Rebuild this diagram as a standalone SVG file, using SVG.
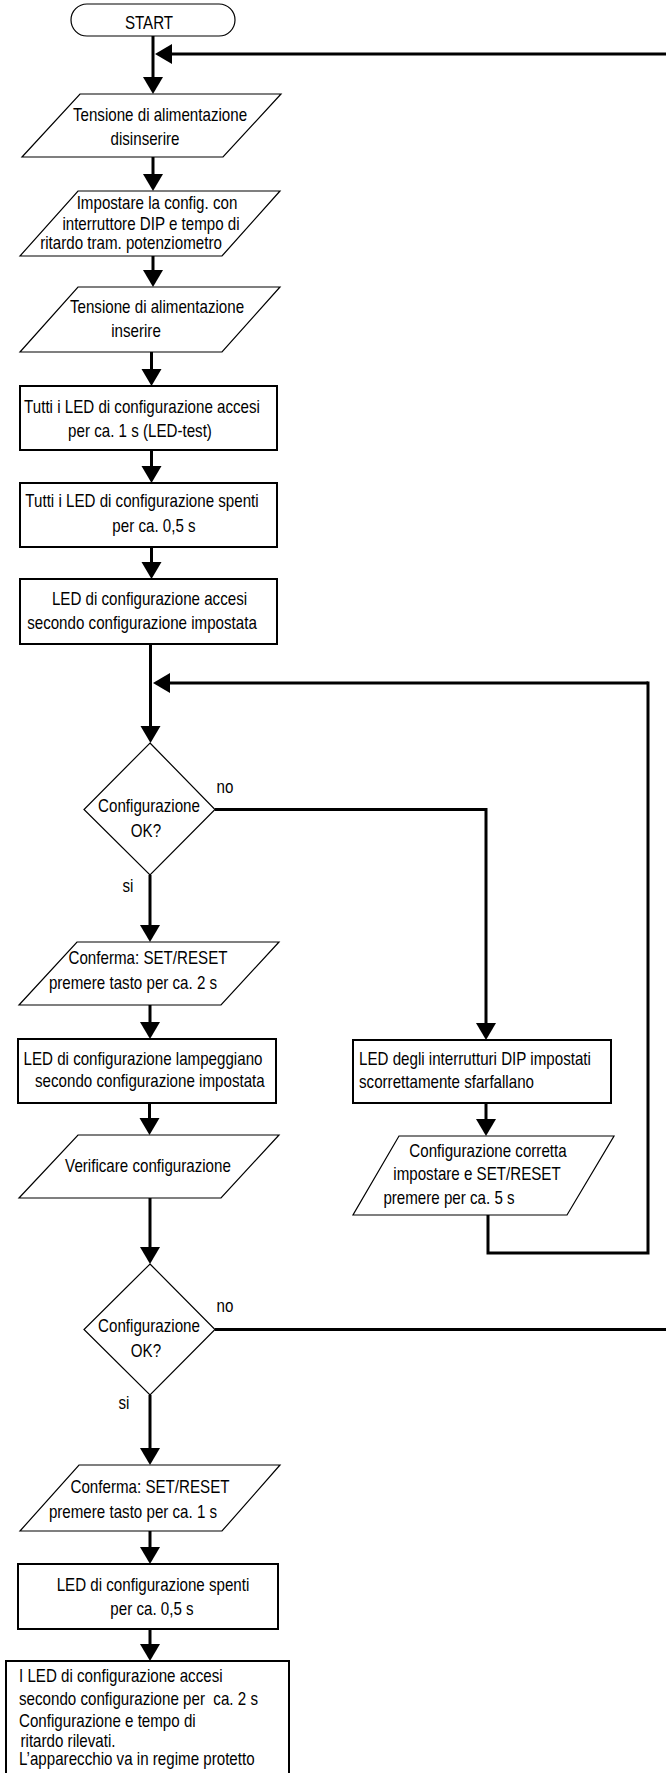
<svg xmlns="http://www.w3.org/2000/svg" width="666" height="1773" viewBox="0 0 666 1773">
  <style>
    .t { font-family: "Liberation Sans", Arial, sans-serif; font-size: 17.5px; fill: #000; }
    .c { text-anchor: middle; }
    .s { text-anchor: start; }
    .term { fill: #fff; stroke: #000; stroke-width: 1.2; }
    .io { fill: #fff; stroke: #000; stroke-width: 1.2; }
    .proc { fill: #fff; stroke: #000; stroke-width: 2; }
    .dec { fill: #fff; stroke: #000; stroke-width: 1.2; }
    .wire { fill: none; stroke: #000; stroke-width: 3; }
  </style>
  <defs>
    <marker id="head" markerUnits="userSpaceOnUse" markerWidth="18" markerHeight="20" refX="0" refY="10" orient="auto" overflow="visible">
      <path d="M0,0 L17,10 L0,20 Z" fill="#000"/>
    </marker>
  </defs>
  <rect width="666" height="1773" fill="#fff"/>

  <!-- connectors -->
  <g id="connectors" class="wire">
    <path d="M153,36 V77" marker-end="url(#head)"/>
    <path d="M666,54 H172" marker-end="url(#head)"/>
    <path d="M153,157 V174" marker-end="url(#head)"/>
    <path d="M153,256 V270" marker-end="url(#head)"/>
    <path d="M151.5,352 V369" marker-end="url(#head)"/>
    <path d="M151.5,450 V466" marker-end="url(#head)"/>
    <path d="M151.5,547 V562" marker-end="url(#head)"/>
    <path d="M150.5,644 V726" marker-end="url(#head)"/>
    <path d="M648,683 H170" marker-end="url(#head)"/>
    <path d="M150,875 V925" marker-end="url(#head)"/>
    <path d="M215,809.5 H486 V1023" marker-end="url(#head)"/>
    <path d="M150,1005 V1022" marker-end="url(#head)"/>
    <path d="M149.5,1103 V1118" marker-end="url(#head)"/>
    <path d="M486,1103 V1119" marker-end="url(#head)"/>
    <path d="M488,1215 V1253 H648 V681.5"/>
    <path d="M150,1198 V1247" marker-end="url(#head)"/>
    <path d="M215,1329.5 H666"/>
    <path d="M150,1395 V1448" marker-end="url(#head)"/>
    <path d="M150,1531 V1547" marker-end="url(#head)"/>
    <path d="M150,1629 V1644" marker-end="url(#head)"/>
  </g>

  <g id="start">
    <rect class="term" x="71" y="4" width="164" height="32" rx="16"/>
    <text class="t c" transform="translate(149,29) scale(0.865,1)">START</text>
  </g>

  <g id="power-off">
    <polygon class="io" points="80,94 281,94 223,157 22,157"/>
    <text class="t c" transform="translate(160,120.5) scale(0.865,1)">Tensione di alimentazione</text>
    <text class="t c" transform="translate(145,144.5) scale(0.865,1)">disinserire</text>
  </g>

  <g id="set-config">
    <polygon class="io" points="78,191 280,191 222,256 20,256"/>
    <text class="t c" transform="translate(157,209) scale(0.865,1)">Impostare la config. con</text>
    <text class="t c" transform="translate(151,230) scale(0.865,1)">interruttore DIP e tempo di</text>
    <text class="t c" transform="translate(131,249) scale(0.865,1)">ritardo tram. potenziometro</text>
  </g>

  <g id="power-on">
    <polygon class="io" points="78,287 280,287 222,352 20,352"/>
    <text class="t c" transform="translate(157,313) scale(0.865,1)">Tensione di alimentazione</text>
    <text class="t c" transform="translate(136,337) scale(0.865,1)">inserire</text>
  </g>

  <g id="led-test">
    <rect class="proc" x="20" y="386" width="257" height="64"/>
    <text class="t c" transform="translate(142,413) scale(0.865,1)">Tutti i LED di configurazione accesi</text>
    <text class="t c" transform="translate(140,437) scale(0.865,1)">per ca. 1 s (LED-test)</text>
  </g>

  <g id="leds-off">
    <rect class="proc" x="20" y="483" width="257" height="64"/>
    <text class="t c" transform="translate(142,507) scale(0.865,1)">Tutti i LED di configurazione spenti</text>
    <text class="t c" transform="translate(154,532) scale(0.865,1)">per ca. 0,5 s</text>
  </g>

  <g id="leds-config">
    <rect class="proc" x="20" y="579" width="257" height="65"/>
    <text class="t c" transform="translate(149.5,605) scale(0.865,1)">LED di configurazione accesi</text>
    <text class="t c" transform="translate(142,629) scale(0.865,1)">secondo configurazione impostata</text>
  </g>

  <g id="check-1">
    <polygon class="dec" points="150,743 215,809.5 150,875 84,809.5"/>
    <text class="t c" transform="translate(149,811.5) scale(0.865,1)">Configurazione</text>
    <text class="t c" transform="translate(146,837) scale(0.865,1)">OK?</text>
    <text class="t c" transform="translate(225,793) scale(0.865,1)">no</text>
    <text class="t c" transform="translate(128,892) scale(0.865,1)">si</text>
  </g>

  <g id="confirm-2s">
    <polygon class="io" points="77,942 279,942 221,1005 19,1005"/>
    <text class="t c" transform="translate(148,963.5) scale(0.865,1)">Conferma: SET/RESET</text>
    <text class="t c" transform="translate(133,988.5) scale(0.865,1)">premere tasto per ca. 2 s</text>
  </g>

  <g id="leds-blink">
    <rect class="proc" x="18" y="1039" width="258" height="64"/>
    <text class="t s" transform="translate(23.5,1065) scale(0.865,1)">LED di configurazione lampeggiano</text>
    <text class="t s" transform="translate(35,1087) scale(0.865,1)">secondo configurazione impostata</text>
  </g>

  <g id="dip-flicker">
    <rect class="proc" x="353" y="1040" width="258" height="63"/>
    <text class="t s" transform="translate(359,1065) scale(0.865,1)">LED degli interrutturi DIP impostati</text>
    <text class="t s" transform="translate(359,1088) scale(0.865,1)">scorrettamente sfarfallano</text>
  </g>

  <g id="verify">
    <polygon class="io" points="78,1135 279,1135 221,1198 19,1198"/>
    <text class="t c" transform="translate(148,1172) scale(0.865,1)">Verificare configurazione</text>
  </g>

  <g id="correct-config">
    <polygon class="io" points="399,1136 614,1136 567,1215 353,1215"/>
    <text class="t c" transform="translate(488,1157) scale(0.865,1)">Configurazione corretta</text>
    <text class="t c" transform="translate(477,1180) scale(0.865,1)">impostare e SET/RESET</text>
    <text class="t c" transform="translate(449,1203.5) scale(0.865,1)">premere per ca. 5 s</text>
  </g>

  <g id="check-2">
    <polygon class="dec" points="150,1264 215,1329.5 150,1395 84,1329.5"/>
    <text class="t c" transform="translate(149,1332) scale(0.865,1)">Configurazione</text>
    <text class="t c" transform="translate(146,1357) scale(0.865,1)">OK?</text>
    <text class="t c" transform="translate(225,1312) scale(0.865,1)">no</text>
    <text class="t c" transform="translate(124,1408.5) scale(0.865,1)">si</text>
  </g>

  <g id="confirm-1s">
    <polygon class="io" points="79,1465 280,1465 222,1531 20,1531"/>
    <text class="t c" transform="translate(150,1493) scale(0.865,1)">Conferma: SET/RESET</text>
    <text class="t c" transform="translate(133,1517.5) scale(0.865,1)">premere tasto per ca. 1 s</text>
  </g>

  <g id="leds-off-2">
    <rect class="proc" x="18" y="1564" width="260" height="65"/>
    <text class="t c" transform="translate(153,1591) scale(0.865,1)">LED di configurazione spenti</text>
    <text class="t c" transform="translate(152,1615) scale(0.865,1)">per ca. 0,5 s</text>
  </g>

  <g id="protected-mode">
    <rect class="proc" x="6" y="1661" width="283" height="120"/>
    <text class="t s" transform="translate(19,1682) scale(0.865,1)">I LED di configurazione accesi</text>
    <text class="t s" xml:space="preserve" transform="translate(19,1705) scale(0.865,1)">secondo configurazione per  ca. 2 s</text>
    <text class="t s" transform="translate(19,1727) scale(0.865,1)">Configurazione e tempo di</text>
    <text class="t s" transform="translate(20.5,1747) scale(0.865,1)">ritardo rilevati.</text>
    <text class="t s" transform="translate(19,1765) scale(0.865,1)">L’apparecchio va in regime protetto</text>
  </g>
</svg>
